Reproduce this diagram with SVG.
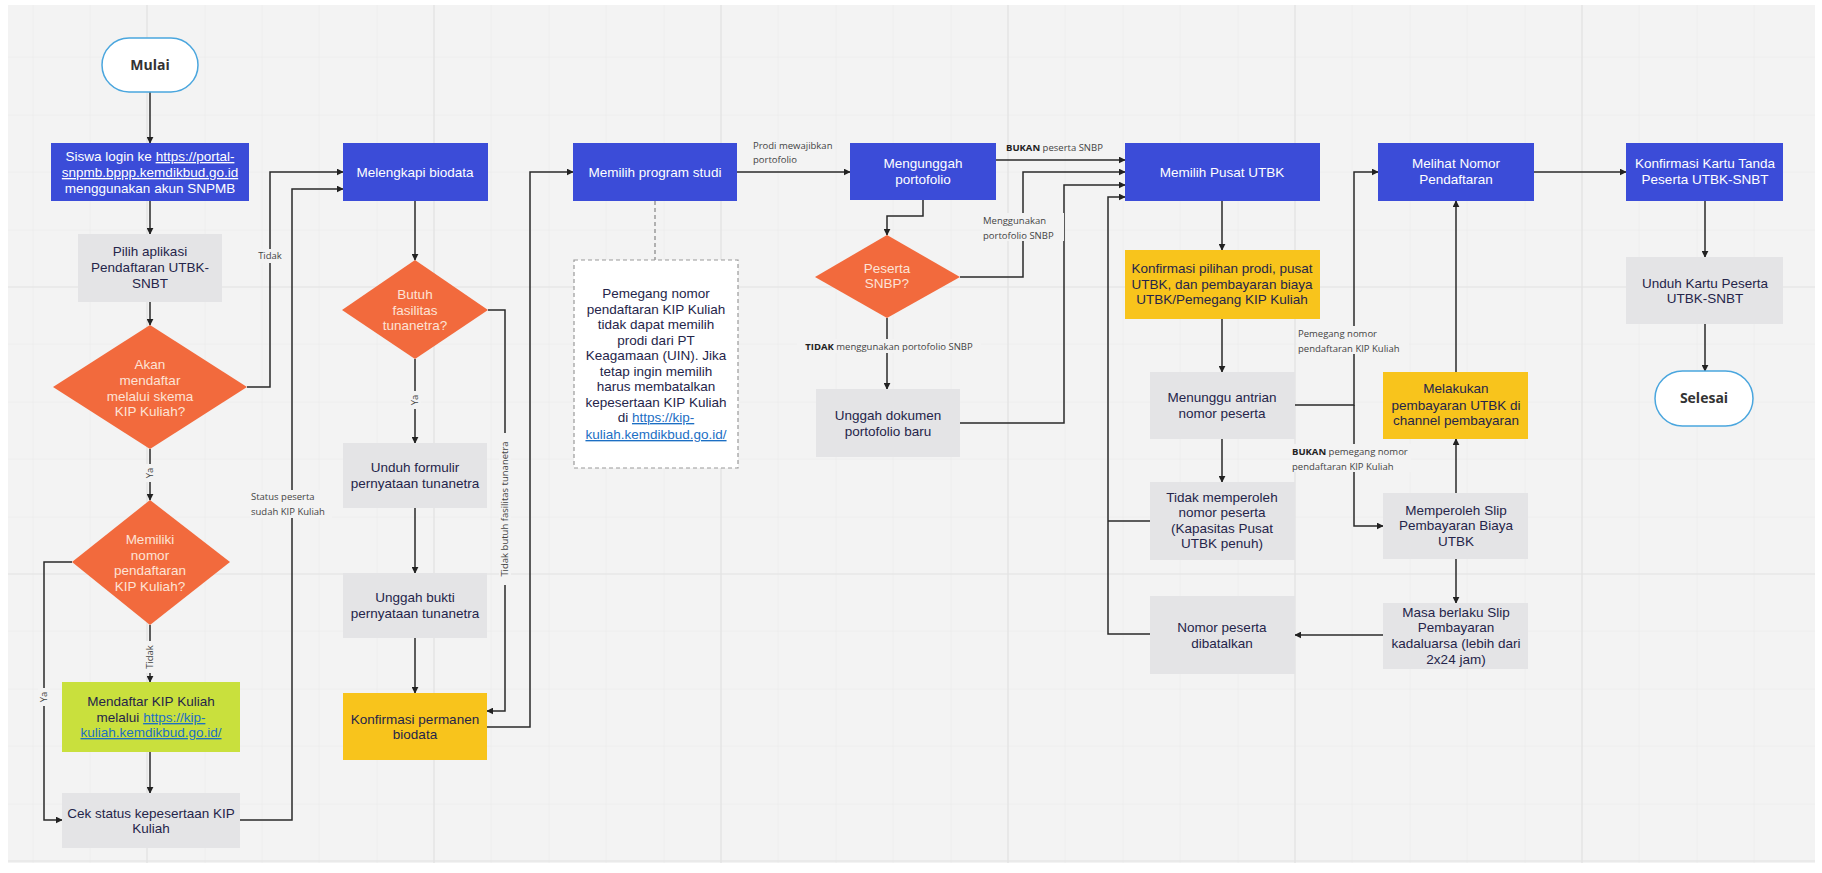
<svg xmlns="http://www.w3.org/2000/svg" width="1822" height="873" viewBox="0 0 1822 873">
<defs>
<marker id="ah" viewBox="0 0 10 10" refX="9" refY="5" markerWidth="7" markerHeight="7" orient="auto-start-reverse" markerUnits="userSpaceOnUse">
<path d="M0,0 L10,5 L0,10 z" fill="#222"/>
</marker>
<style>
.bg{fill:#f3f3f3}
.grid{stroke:#e2e2e2;stroke-width:1.2}
.mgrid{stroke:#ececec;stroke-width:0.8}
.blue{fill:#3b4cd8}
.grey{fill:#e4e4e6}
.yel{fill:#f8c41c}
.grn{fill:#c9e03d}
.dia{fill:#f26a3d}
.term{fill:#ffffff;stroke:#4aa6de;stroke-width:1.5}
.note{fill:#ffffff;stroke:#9a9a9a;stroke-width:1.2;stroke-dasharray:4 3}
.t{font-family:"Liberation Sans",Arial,sans-serif;font-size:13.5px;text-anchor:middle}
.w{fill:#ffffff}
.d{fill:#25254a}
.o{fill:#fde3d6}
.b{font-weight:bold;font-family:"Open Sans","Liberation Sans",sans-serif;font-size:14px;fill:#333}
.lk{text-decoration:underline}
.lb{fill:#1c6fc4}
.lbl{font-family:"Open Sans","Liberation Sans",sans-serif;font-size:9.5px;fill:#444}
.lblbg{fill:#f3f3f3}
.c{fill:none;stroke:#2a2a2a;stroke-width:1.5}
.dash{fill:none;stroke:#9a9a9a;stroke-width:1.5;stroke-dasharray:4 3}
</style>
</defs>
<rect x="0" y="0" width="1822" height="873" fill="#ffffff"/>
<rect class="bg" x="8" y="5" width="1807" height="858"/>
<g id="grid">
<path class="mgrid" d="M33,5V863M90,5V863M205,5V863M262,5V863M319,5V863M377,5V863M491,5V863M549,5V863M606,5V863M664,5V863M778,5V863M836,5V863M893,5V863M951,5V863M1065,5V863M1123,5V863M1180,5V863M1238,5V863M1352,5V863M1410,5V863M1467,5V863M1525,5V863M1639,5V863M1697,5V863M1754,5V863M8,57H1815M8,115H1815M8,172H1815M8,230H1815M8,344H1815M8,402H1815M8,459H1815M8,517H1815M8,631H1815M8,689H1815M8,746H1815M8,804H1815"/>
<path class="grid" d="M147,5V863M434,5V863M721,5V863M1008,5V863M1295,5V863M1582,5V863M8,287H1815M8,574H1815M8,861H1815"/>
</g>
<g id="connectors">
<path class="c" d="M150,92V143" marker-end="url(#ah)"/>
<path class="c" d="M150,201V234" marker-end="url(#ah)"/>
<path class="c" d="M150,302V325" marker-end="url(#ah)"/>
<path class="c" d="M150,449V500" marker-end="url(#ah)"/>
<path class="c" d="M150,625V682" marker-end="url(#ah)"/>
<path class="c" d="M150,752V793" marker-end="url(#ah)"/>
<path class="c" d="M72,562H44V820H62" marker-end="url(#ah)"/>
<path class="c" d="M247,387H270V172H343" marker-end="url(#ah)"/>
<path class="c" d="M240,820H292V189H343" marker-end="url(#ah)"/>
<path class="c" d="M415,201V260" marker-end="url(#ah)"/>
<path class="c" d="M415,359V443" marker-end="url(#ah)"/>
<path class="c" d="M415,508V573" marker-end="url(#ah)"/>
<path class="c" d="M415,638V693" marker-end="url(#ah)"/>
<path class="c" d="M488,310H505V711H487" marker-end="url(#ah)"/>
<path class="c" d="M487,727H530V172H573" marker-end="url(#ah)"/>
<path class="dash" d="M655,201V260"/>
<path class="c" d="M737,172H850" marker-end="url(#ah)"/>
<path class="c" d="M923,200V216H887V235" marker-end="url(#ah)"/>
<path class="c" d="M887,318V389" marker-end="url(#ah)"/>
<path class="c" d="M996,160H1125" marker-end="url(#ah)"/>
<path class="c" d="M960,277H1023V172H1125" marker-end="url(#ah)"/>
<path class="c" d="M960,423H1064V185H1125" marker-end="url(#ah)"/>
<path class="c" d="M1150,634H1108V197H1125" marker-end="url(#ah)"/>
<path class="c" d="M1150,521H1108"/>
<path class="c" d="M1222,201V250" marker-end="url(#ah)"/>
<path class="c" d="M1222,319V372" marker-end="url(#ah)"/>
<path class="c" d="M1222,439V482" marker-end="url(#ah)"/>
<path class="c" d="M1295,405H1354V172H1378" marker-end="url(#ah)"/>
<path class="c" d="M1354,405V526H1383" marker-end="url(#ah)"/>
<path class="c" d="M1456,372V201" marker-end="url(#ah)"/>
<path class="c" d="M1456,493V439" marker-end="url(#ah)"/>
<path class="c" d="M1456,559V603" marker-end="url(#ah)"/>
<path class="c" d="M1383,635H1295" marker-end="url(#ah)"/>
<path class="c" d="M1534,172H1626" marker-end="url(#ah)"/>
<path class="c" d="M1705,201V257" marker-end="url(#ah)"/>
<path class="c" d="M1705,324V371" marker-end="url(#ah)"/>
</g>
<g id="labels">
<rect class="lblbg" x="144" y="464" width="12" height="18"/>
<text class="lbl" transform="translate(153,473) rotate(-90)" text-anchor="middle">Ya</text>
<rect class="lblbg" x="144" y="641" width="12" height="32"/>
<text class="lbl" transform="translate(153,657) rotate(-90)" text-anchor="middle">Tidak</text>
<rect class="lblbg" x="38" y="688" width="12" height="18"/>
<text class="lbl" transform="translate(47,697) rotate(-90)" text-anchor="middle">Ya</text>
<rect class="lblbg" x="257" y="249" width="26" height="14"/>
<text class="lbl" x="270" y="259" text-anchor="middle">Tidak</text>
<rect class="lblbg" x="250" y="490" width="82" height="28"/>
<text class="lbl" x="251" y="500">Status peserta</text>
<text class="lbl" x="251" y="515">sudah KIP Kuliah</text>
<rect class="lblbg" x="409" y="391" width="12" height="18"/>
<text class="lbl" transform="translate(418,400) rotate(-90)" text-anchor="middle">Ya</text>
<rect class="lblbg" x="499" y="433" width="12" height="152"/>
<text class="lbl" transform="translate(508,509) rotate(-90)" text-anchor="middle">Tidak butuh fasilitas tunanetra</text>
<text class="lbl" x="753" y="149">Prodi mewajibkan</text>
<text class="lbl" x="753" y="163">portofolio</text>
<rect class="lblbg" x="797" y="339" width="184" height="14"/>
<text class="lbl" x="889" y="350" text-anchor="middle"><tspan font-weight="bold" fill="#222">TIDAK</tspan> menggunakan portofolio SNBP</text>
<text class="lbl" x="1006" y="151"><tspan font-weight="bold" fill="#222">BUKAN</tspan> peserta SNBP</text>
<rect class="lblbg" x="982" y="213" width="82" height="28"/>
<text class="lbl" x="983" y="224">Menggunakan</text>
<text class="lbl" x="983" y="239">portofolio SNBP</text>
<rect class="lblbg" x="1297" y="326" width="112" height="28"/>
<text class="lbl" x="1298" y="337">Pemegang nomor</text>
<text class="lbl" x="1298" y="352">pendaftaran KIP Kuliah</text>
<rect class="lblbg" x="1291" y="444" width="120" height="28"/>
<text class="lbl" x="1292" y="455"><tspan font-weight="bold" fill="#222">BUKAN</tspan> pemegang nomor</text>
<text class="lbl" x="1292" y="470">pendaftaran KIP Kuliah</text>
</g>
<g id="mulai">
<rect class="term" x="102" y="38" width="96" height="54" rx="27"/>
<text class="b" x="150" y="70" text-anchor="middle">Mulai</text>
</g>
<g id="login">
<rect class="blue" x="51" y="143" width="198" height="58"/>
<text class="t w" x="150" y="161">Siswa login ke <tspan class="lk">https://portal-</tspan></text>
<text class="t w" x="150" y="177"><tspan class="lk">snpmb.bppp.kemdikbud.go.id</tspan></text>
<text class="t w" x="150" y="193">menggunakan akun SNPMB</text>
</g>
<g id="pilih">
<rect class="grey" x="78" y="234" width="144" height="68"/>
<text class="t d" x="150" y="256">Pilih aplikasi</text>
<text class="t d" x="150" y="272">Pendaftaran UTBK-</text>
<text class="t d" x="150" y="288">SNBT</text>
</g>
<g id="akan">
<polygon class="dia" points="150,325 247,387 150,449 53,387"/>
<text class="t o" x="150" y="369">Akan</text>
<text class="t o" x="150" y="385">mendaftar</text>
<text class="t o" x="150" y="401">melalui skema</text>
<text class="t o" x="150" y="416">KIP Kuliah?</text>
</g>
<g id="memiliki">
<polygon class="dia" points="150,500 230,562 150,625 72,562"/>
<text class="t o" x="150" y="544">Memiliki</text>
<text class="t o" x="150" y="560">nomor</text>
<text class="t o" x="150" y="575">pendaftaran</text>
<text class="t o" x="150" y="591">KIP Kuliah?</text>
</g>
<g id="mendaftar">
<rect class="grn" x="62" y="682" width="178" height="70"/>
<text class="t d" x="151" y="706">Mendaftar KIP Kuliah</text>
<text class="t d" x="151" y="722">melalui <tspan class="lk lb">https://kip-</tspan></text>
<text class="t lb lk" x="151" y="737">kuliah.kemdikbud.go.id/</text>
</g>
<g id="cek">
<rect class="grey" x="62" y="793" width="178" height="55"/>
<text class="t d" x="151" y="818">Cek status kepesertaan KIP</text>
<text class="t d" x="151" y="833">Kuliah</text>
</g>
<g id="melengkapi">
<rect class="blue" x="343" y="143" width="145" height="58"/>
<text class="t w" x="415" y="177">Melengkapi biodata</text>
</g>
<g id="butuh">
<polygon class="dia" points="415,260 488,310 415,359 342,310"/>
<text class="t o" x="415" y="299">Butuh</text>
<text class="t o" x="415" y="315">fasilitas</text>
<text class="t o" x="415" y="330">tunanetra?</text>
</g>
<g id="unduhformulir">
<rect class="grey" x="343" y="443" width="144" height="65"/>
<text class="t d" x="415" y="472">Unduh formulir</text>
<text class="t d" x="415" y="488">pernyataan tunanetra</text>
</g>
<g id="unggahbukti">
<rect class="grey" x="343" y="573" width="144" height="65"/>
<text class="t d" x="415" y="602">Unggah bukti</text>
<text class="t d" x="415" y="618">pernyataan tunanetra</text>
</g>
<g id="konfirmasibiodata">
<rect class="yel" x="343" y="693" width="144" height="67"/>
<text class="t d" x="415" y="724">Konfirmasi permanen</text>
<text class="t d" x="415" y="739">biodata</text>
</g>
<g id="memilihprodi">
<rect class="blue" x="573" y="143" width="164" height="58"/>
<text class="t w" x="655" y="177">Memilih program studi</text>
</g>
<g id="catatan">
<rect class="note" x="574" y="260" width="164" height="208"/>
<text class="t d" x="656" y="298">Pemegang nomor</text>
<text class="t d" x="656" y="314">pendaftaran KIP Kuliah</text>
<text class="t d" x="656" y="329">tidak dapat memilih</text>
<text class="t d" x="656" y="345">prodi dari PT</text>
<text class="t d" x="656" y="360">Keagamaan (UIN). Jika</text>
<text class="t d" x="656" y="376">tetap ingin memilih</text>
<text class="t d" x="656" y="391">harus membatalkan</text>
<text class="t d" x="656" y="407">kepesertaan KIP Kuliah</text>
<text class="t d" x="656" y="422">di <tspan class="lk lb">https://kip-</tspan></text>
<text class="t lb lk" x="656" y="439">kuliah.kemdikbud.go.id/</text>
</g>
<g id="mengunggah">
<rect class="blue" x="850" y="143" width="146" height="57"/>
<text class="t w" x="923" y="168">Mengunggah</text>
<text class="t w" x="923" y="184">portofolio</text>
</g>
<g id="peserta">
<polygon class="dia" points="887,235 960,277 887,318 815,277"/>
<text class="t o" x="887" y="273">Peserta</text>
<text class="t o" x="887" y="288">SNBP?</text>
</g>
<g id="unggahdokumen">
<rect class="grey" x="816" y="389" width="144" height="68"/>
<text class="t d" x="888" y="420">Unggah dokumen</text>
<text class="t d" x="888" y="436">portofolio baru</text>
</g>
<g id="pusat">
<rect class="blue" x="1125" y="143" width="195" height="58"/>
<text class="t w" x="1222" y="177">Memilih Pusat UTBK</text>
</g>
<g id="konfirmasipilihan">
<rect class="yel" x="1125" y="250" width="195" height="69"/>
<text class="t d" x="1222" y="273">Konfirmasi pilihan prodi, pusat</text>
<text class="t d" x="1222" y="289">UTBK, dan pembayaran biaya</text>
<text class="t d" x="1222" y="304">UTBK/Pemegang KIP Kuliah</text>
</g>
<g id="menunggu">
<rect class="grey" x="1150" y="372" width="145" height="67"/>
<text class="t d" x="1222" y="402">Menunggu antrian</text>
<text class="t d" x="1222" y="418">nomor peserta</text>
</g>
<g id="tidakmemperoleh">
<rect class="grey" x="1150" y="482" width="145" height="78"/>
<text class="t d" x="1222" y="502">Tidak memperoleh</text>
<text class="t d" x="1222" y="517">nomor peserta</text>
<text class="t d" x="1222" y="533">(Kapasitas Pusat</text>
<text class="t d" x="1222" y="548">UTBK penuh)</text>
</g>
<g id="dibatalkan">
<rect class="grey" x="1150" y="596" width="145" height="78"/>
<text class="t d" x="1222" y="632">Nomor peserta</text>
<text class="t d" x="1222" y="648">dibatalkan</text>
</g>
<g id="melihat">
<rect class="blue" x="1378" y="143" width="156" height="58"/>
<text class="t w" x="1456" y="168">Melihat Nomor</text>
<text class="t w" x="1456" y="184">Pendaftaran</text>
</g>
<g id="melakukan">
<rect class="yel" x="1383" y="372" width="145" height="67"/>
<text class="t d" x="1456" y="393">Melakukan</text>
<text class="t d" x="1456" y="410">pembayaran UTBK di</text>
<text class="t d" x="1456" y="425">channel pembayaran</text>
</g>
<g id="slip">
<rect class="grey" x="1383" y="493" width="145" height="66"/>
<text class="t d" x="1456" y="515">Memperoleh Slip</text>
<text class="t d" x="1456" y="530">Pembayaran Biaya</text>
<text class="t d" x="1456" y="546">UTBK</text>
</g>
<g id="masa">
<rect class="grey" x="1383" y="603" width="145" height="66"/>
<text class="t d" x="1456" y="617">Masa berlaku Slip</text>
<text class="t d" x="1456" y="632">Pembayaran</text>
<text class="t d" x="1456" y="648">kadaluarsa (lebih dari</text>
<text class="t d" x="1456" y="664">2x24 jam)</text>
</g>
<g id="kartu">
<rect class="blue" x="1626" y="143" width="157" height="58"/>
<text class="t w" x="1705" y="168">Konfirmasi Kartu Tanda</text>
<text class="t w" x="1705" y="184">Peserta UTBK-SNBT</text>
</g>
<g id="unduhkartu">
<rect class="grey" x="1626" y="257" width="157" height="67"/>
<text class="t d" x="1705" y="288">Unduh Kartu Peserta</text>
<text class="t d" x="1705" y="303">UTBK-SNBT</text>
</g>
<g id="selesai">
<rect class="term" x="1655" y="371" width="98" height="55" rx="27.5"/>
<text class="b" x="1704" y="403" text-anchor="middle">Selesai</text>
</g>
</svg>
